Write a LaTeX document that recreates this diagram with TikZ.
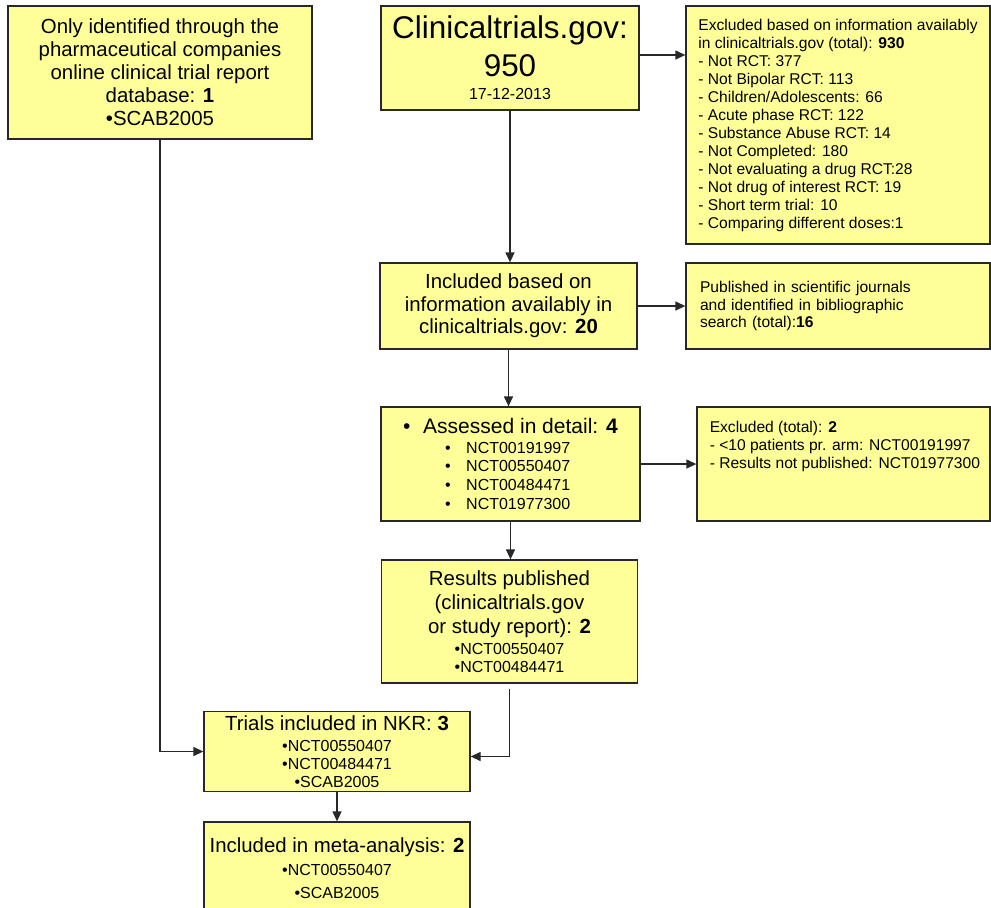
\documentclass[tikz,border=0pt]{standalone}
\usepackage{fontspec}
\setmainfont{Liberation Sans}
\usepackage{tikz}
\usetikzlibrary{arrows.meta, positioning, calc}
\usepackage{xcolor}
\definecolor{boxfill}{RGB}{255,255,153}
\definecolor{boxline}{RGB}{40,40,40}
\newcommand{\idsize}{\fontsize{8}{9}\selectfont}

\begin{document}
\begin{tikzpicture}[x=0.5pt, y=-0.5pt,
  box/.style={draw=boxline, fill=boxfill, line width=0.65pt, inner sep=2pt, align=center},
  big/.style={font=\fontsize{10.2}{11.5}\selectfont},
  small/.style={font=\fontsize{7.8}{9}\selectfont},
  arr/.style={-{Triangle[length=5pt,width=4.5pt]}, line width=0.65pt, draw=boxline}]
  \useasboundingbox (0,0) rectangle (991,907);
  % left column: company database
  \node[box, big, minimum width=152pt, minimum height=66.5pt] (only) at (160,72.5)
    {Only identified through the\\ pharmaceutical companies\\ online clinical trial report\\ database: \textbf{1}\\ •SCAB2005};
  % main column
  \node[box, minimum width=129pt, minimum height=52pt, font=\fontsize{15.7}{19}\selectfont] (trials) at (510,58)
    {Clinicaltrials.gov:\\ 950\\[-7.5pt] {\idsize 17-12-2013}};
  \node[box, big, font=\fontsize{10.2}{11.25}\selectfont, minimum width=128.5pt, minimum height=43pt] (incl) at (508.5,306)
    {Included based on\\ information availably in\\ clinicaltrials.gov: \textbf{20}};
  \node[box, align=left, font=\fontsize{8}{9.35}\selectfont, minimum width=129.5pt, minimum height=57pt] (assess) at (510.5,464)
    {{\fontsize{10.5}{12}\selectfont\makebox[10pt][l]{•}Assessed in detail: \textbf{4}}\\[0.3pt]
     \hspace*{21pt}\makebox[10.5pt][l]{•}NCT00191997\\
     \hspace*{21pt}\makebox[10.5pt][l]{•}NCT00550407\\
     \hspace*{21pt}\makebox[10.5pt][l]{•}NCT00484471\\
     \hspace*{21pt}\makebox[10.5pt][l]{•}NCT01977300};
  \node[box, font=\fontsize{10.2}{12}\selectfont, minimum width=128pt, minimum height=61.5pt] (res) at (509.5,621.5)
    {Results published\\ (clinicaltrials.gov\\ or study report): \textbf{2}\\[-1.5pt]
     {\idsize •NCT00550407}\\[-3pt] {\idsize •NCT00484471}};
  \node[box, font=\fontsize{10.2}{12}\selectfont, minimum width=133pt, minimum height=39.5pt] (nkr) at (337,751.5)
    {Trials included in NKR: \textbf{3}\\[-1.5pt] {\idsize •NCT00550407}\\[-3pt]
     {\idsize •NCT00484471}\\[-3pt] {\idsize •SCAB2005}};
  \node[box, font=\fontsize{10.2}{11.5}\selectfont, minimum width=133pt, minimum height=46pt] (meta) at (337,868)
    {Included in meta-analysis: \textbf{2}\\ {\idsize •NCT00550407}\\ {\idsize •SCAB2005}};
  % right column
  \node[box, small, align=left, minimum width=152pt, minimum height=119pt] (excl) at (838,125)
    {Excluded based on information availably\\ in clinicaltrials.gov (total): \textbf{930}\\
     - Not RCT: 377\\ - Not Bipolar RCT: 113\\ - Children/Adolescents: 66\\
     - Acute phase RCT: 122\\ - Substance Abuse RCT: 14\\ - Not Completed: 180\\
     - Not evaluating a drug RCT:28\\ - Not drug of interest RCT: 19\\
     - Short term trial: 10\\ - Comparing different doses:1};
  \node[box, align=left, font=\fontsize{7.8}{8.75}\selectfont, text width=138pt, inner xsep=7pt, minimum height=43pt] (pub) at (838,306)
    {Published in scientific journals\\ and identified in bibliographic\\ search (total):\textbf{16}};
  \node[box, minimum width=146.5pt, minimum height=57pt] (excl2) at (843.5,464) {};
  \node[small, align=left, anchor=north west, inner sep=0pt] (excl2txt) at ([xshift=6.5pt,yshift=-7pt]excl2.north west)
    {Excluded (total): \textbf{2}\\ - <10 patients pr. arm: NCT00191997\\ - Results not published:  NCT01977300};
  % connectors
  \draw[arr] ([yshift=1.5pt]trials.east) -- ([yshift=1.5pt]trials.east -| excl.west);
  \draw[arr] (trials.south) -- (trials.south |- incl.north);
  \draw[arr] (incl.east) -- (incl.east -| pub.west);
  \draw[arr] (incl.south) -- (incl.south |- assess.north);
  \draw[arr] (assess.east) -- (assess.east -| excl2.west);
  \draw[arr] (assess.south) -- (assess.south |- res.north);
  \draw[arr] ([yshift=-2.5pt]res.south) |- ([yshift=-2.5pt]nkr.east);
  \draw[arr] (only.south) |- (nkr.west);
  \draw[arr] (nkr.south) -- (meta.north);
\end{tikzpicture}
\end{document}
